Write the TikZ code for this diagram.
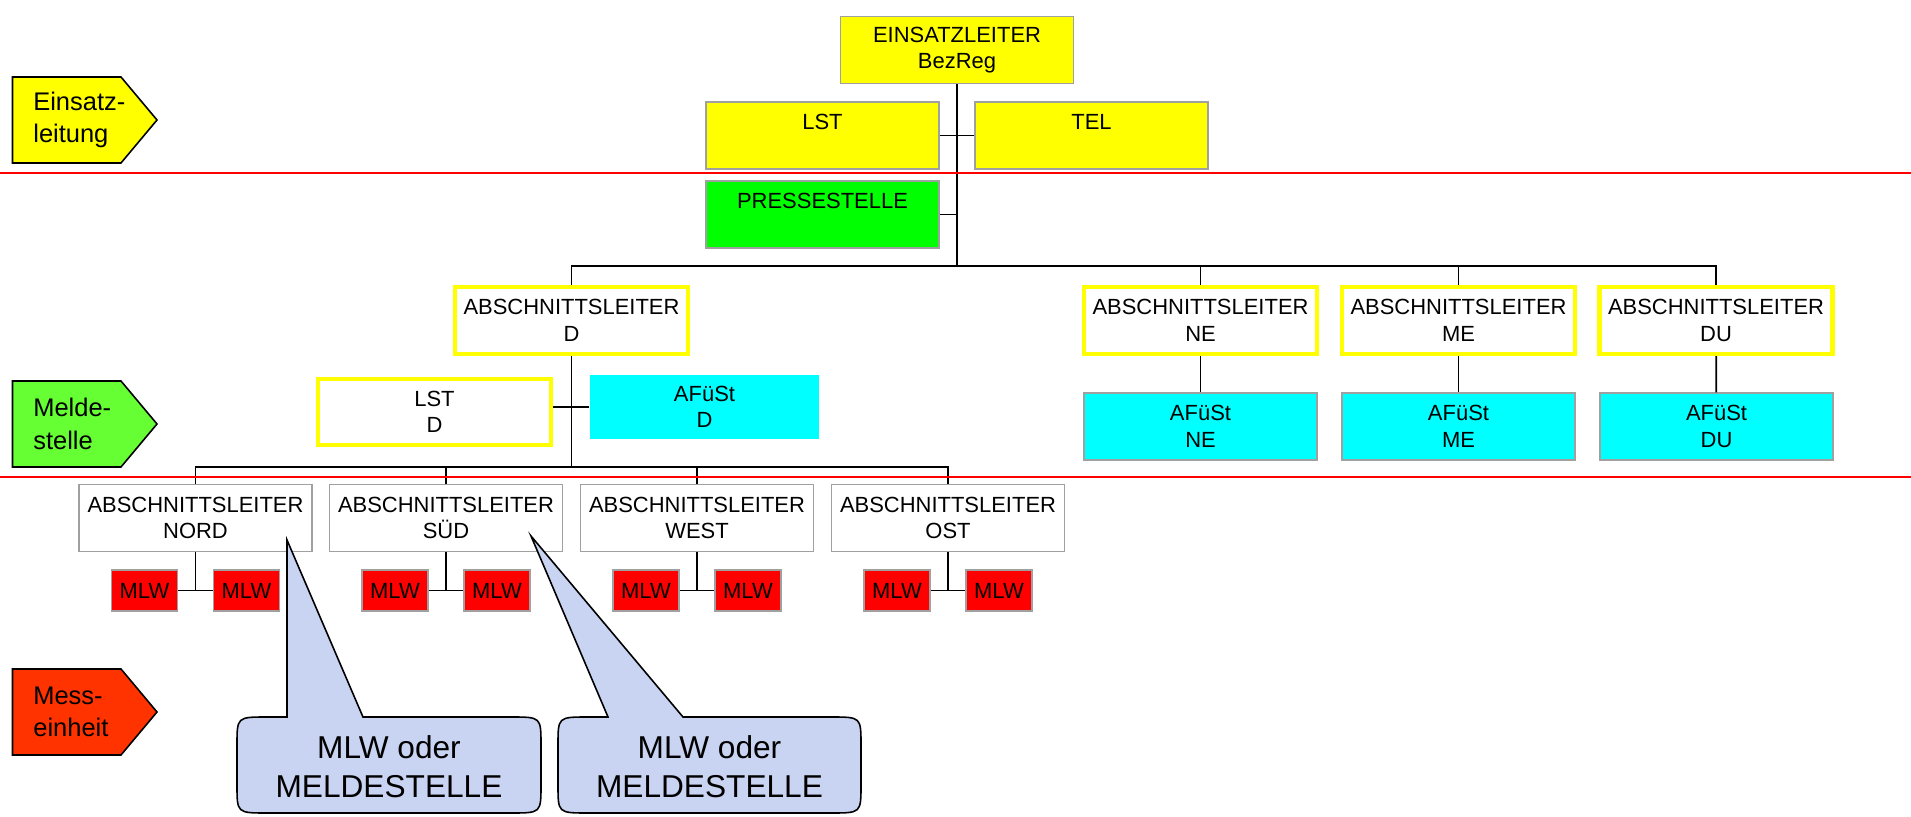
\documentclass[tikz,border=0pt]{standalone}
\usepackage{fontspec}
\setmainfont{Liberation Sans}

\definecolor{tagyellow}{HTML}{FFFF00}
\definecolor{taggreen}{HTML}{66FF33}
\definecolor{tagred}{HTML}{FF3300}
\definecolor{pressgreen}{HTML}{00FF00}
\definecolor{afucyan}{HTML}{00FFFF}
\definecolor{mlwred}{HTML}{FF0000}
\definecolor{bubble}{RGB}{201,211,242}
\definecolor{frame}{HTML}{A0A0A0}

\tikzset{
  box/.style={draw=frame, line width=0.8pt, align=center, inner sep=0pt,
    font=\fontsize{12.5}{15}\selectfont, minimum width=4.66cm, minimum height=1.34cm},
  leader/.style={box, draw=tagyellow, line width=2.4pt, fill=white},
  mlwbox/.style={box, fill=mlwred, minimum width=1.32cm, minimum height=0.82cm},
  tagtext/.style={align=left, inner sep=0pt, font=\fontsize{14.5}{18.5}\selectfont},
  bubbletext/.style={align=center, inner sep=0pt, font=\fontsize{18}{22}\selectfont},
  link/.style={line width=1pt},
  sepline/.style={red, line width=1pt},
}

\begin{document}
\begin{tikzpicture}[x=0.02cm, y=-0.02cm]
\useasboundingbox (0,0) rectangle (1911,817);

% level tags on the left
\foreach \y/\c/\t in {120/tagyellow/{Einsatz-\\leitung}, 424/taggreen/{Melde-\\stelle}, 712/tagred/{Mess-\\einheit}} {
  \filldraw[fill=\c, draw=black, line width=0.9pt] (12.5,{\y-43}) -- (121,{\y-43}) -- (157,\y) -- (121,{\y+43}) -- (12.5,{\y+43}) -- cycle;
  \node[tagtext, anchor=west] (tag\y) at (33,\y) {\t};
}

% Einsatzleitung
\node[box, fill=tagyellow] (el) at (957,50) {EINSATZLEITER\\BezReg};
\node[box, fill=tagyellow] (lst) at (822.5,135.5) {LST\\~};
\node[box, fill=tagyellow] (tel) at (1091.5,135.5) {TEL\\~};
\node[box, fill=pressgreen] (presse) at (822.5,214.5) {PRESSESTELLE\\~};
\coordinate (bus1) at (957,266);

% Abschnitte
\node[leader] (absD) at (571.5,320.5) {ABSCHNITTSLEITER\\D};
\node[leader] (absNE) at (1200.5,320.5) {ABSCHNITTSLEITER\\NE};
\node[leader] (absME) at (1458.5,320.5) {ABSCHNITTSLEITER\\ME};
\node[leader] (absDU) at (1716,320.5) {ABSCHNITTSLEITER\\DU};
\node[box, fill=afucyan] (afuNE) at (1200.5,426.5) {AFüSt\\NE};
\node[box, fill=afucyan] (afuME) at (1458.5,426.5) {AFüSt\\ME};
\node[box, fill=afucyan] (afuDU) at (1716.5,426.5) {AFüSt\\DU};
\node[leader, minimum height=1.32cm] (lstD) at (434.5,412) {LST\\D};
\node[box, draw=none, fill=afucyan, minimum width=4.58cm, minimum height=1.28cm] (afuD) at (704.5,407) {AFüSt\\D};
\coordinate (bus2) at (571.5,467);

% Messeinheiten
\foreach \n/\x/\t in {nord/195.5/NORD, sued/446/SÜD, west/697/WEST, ost/948/OST} {
  \node[box] (\n) at (\x,518) {ABSCHNITTSLEITER\\\t};
  \node[mlwbox] (\n-l) at ({\x-51},590.5) {MLW};
  \node[mlwbox] (\n-r) at ({\x+51},590.5) {MLW};
  \draw[link] (\n.south) -- (\n.south |- \n-l.east);
  \draw[link] (\n-l) -- (\n-r);
}

% connectors
\draw[link] (el.south) -- (bus1);
\draw[link] (lst) -- (tel);
\draw[link] (presse.east) -- (presse.east -| bus1);
\draw[link] (absD.north) |- (bus1) -| (absDU.north);
\foreach \n in {absNE, absME}
  \draw[link] (\n.north) -- (\n.north |- bus1);
\foreach \n in {NE, ME, DU}
  \draw[link] (abs\n) -- (afu\n);
\draw[link] (absD.south) -- (bus2);
\draw[link] (afuD.west) -- (afuD.west -| lstD.east);
\draw[link] (nord.north) |- (bus2) -| (ost.north);
\foreach \n in {sued, west}
  \draw[link] (\n.north) -- (\n.north |- bus2);

% separators
\draw[sepline] (0,173) -- (1911,173);
\draw[sepline] (0,477) -- (1911,477);

% callouts
\filldraw[fill=bubble, draw=black, line width=0.9pt] (287,717) -- (287,540) -- (363,717) -- (511,717) .. controls (541,717) .. (541,745) -- (541,785) .. controls (541,813) .. (511,813) -- (267,813) .. controls (237,813) .. (237,785) -- (237,745) .. controls (237,717) .. (267,717) -- cycle;
\filldraw[fill=bubble, draw=black, line width=0.9pt] (608,717) -- (531,536) -- (683,717) -- (831,717) .. controls (861,717) .. (861,745) -- (861,785) .. controls (861,813) .. (831,813) -- (588,813) .. controls (558,813) .. (558,785) -- (558,745) .. controls (558,717) .. (588,717) -- cycle;
\node[bubbletext] (note1) at (389,767) {MLW oder\\MELDESTELLE};
\node[bubbletext] (note2) at (709.5,767) {MLW oder\\MELDESTELLE};

\end{tikzpicture}
\end{document}
